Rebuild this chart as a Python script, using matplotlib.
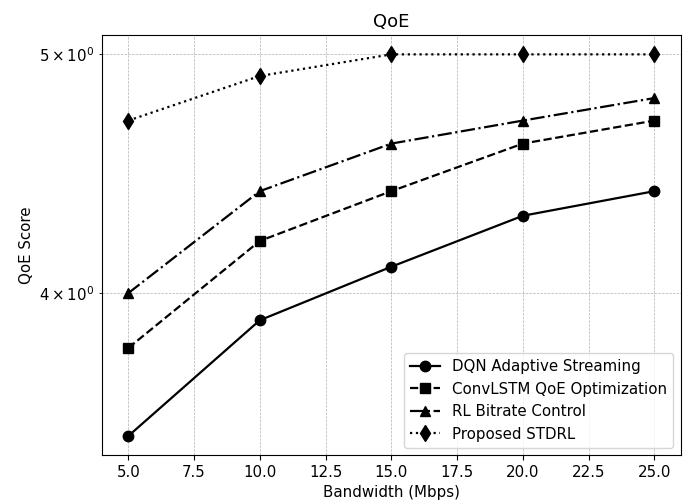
import matplotlib
matplotlib.use("Agg")
import matplotlib.pyplot as plt

plt.rcParams['font.size'] = 10.8

bandwidth = [5, 10, 15, 20, 25]
dqn = [3.5, 3.9, 4.1, 4.3, 4.4]
convlstm = [3.8, 4.2, 4.4, 4.6, 4.7]
rl = [4.0, 4.4, 4.6, 4.7, 4.8]
stdrl = [4.7, 4.9, 5.0, 5.0, 5.0]

#plotting
fig, ax = plt.subplots(figsize=(6.89, 5.04), dpi=100)
ax.plot(bandwidth, dqn, 'k-', marker='o', markersize=7.5, linewidth=1.6, label='DQN Adaptive Streaming')
ax.plot(bandwidth, convlstm, 'k--', marker='s', markersize=7.5, linewidth=1.6, label='ConvLSTM QoE Optimization')
ax.plot(bandwidth, rl, 'k-.', marker='^', markersize=7.5, linewidth=1.6, label='RL Bitrate Control')
ax.plot(bandwidth, stdrl, 'k:', marker='d', markersize=8.5, linewidth=1.6, label='Proposed STDRL')

ax.set_yscale('log')
ax.set_xlabel('Bandwidth (Mbps)')
ax.set_ylabel('QoE Score')
ax.set_title('QoE')
ax.grid(True, which='both', linestyle='--', linewidth=0.5)
ax.legend(loc='lower right')

fig.subplots_adjust(left=0.148, right=0.988, top=0.93, bottom=0.097)
fig.savefig('out.png')
